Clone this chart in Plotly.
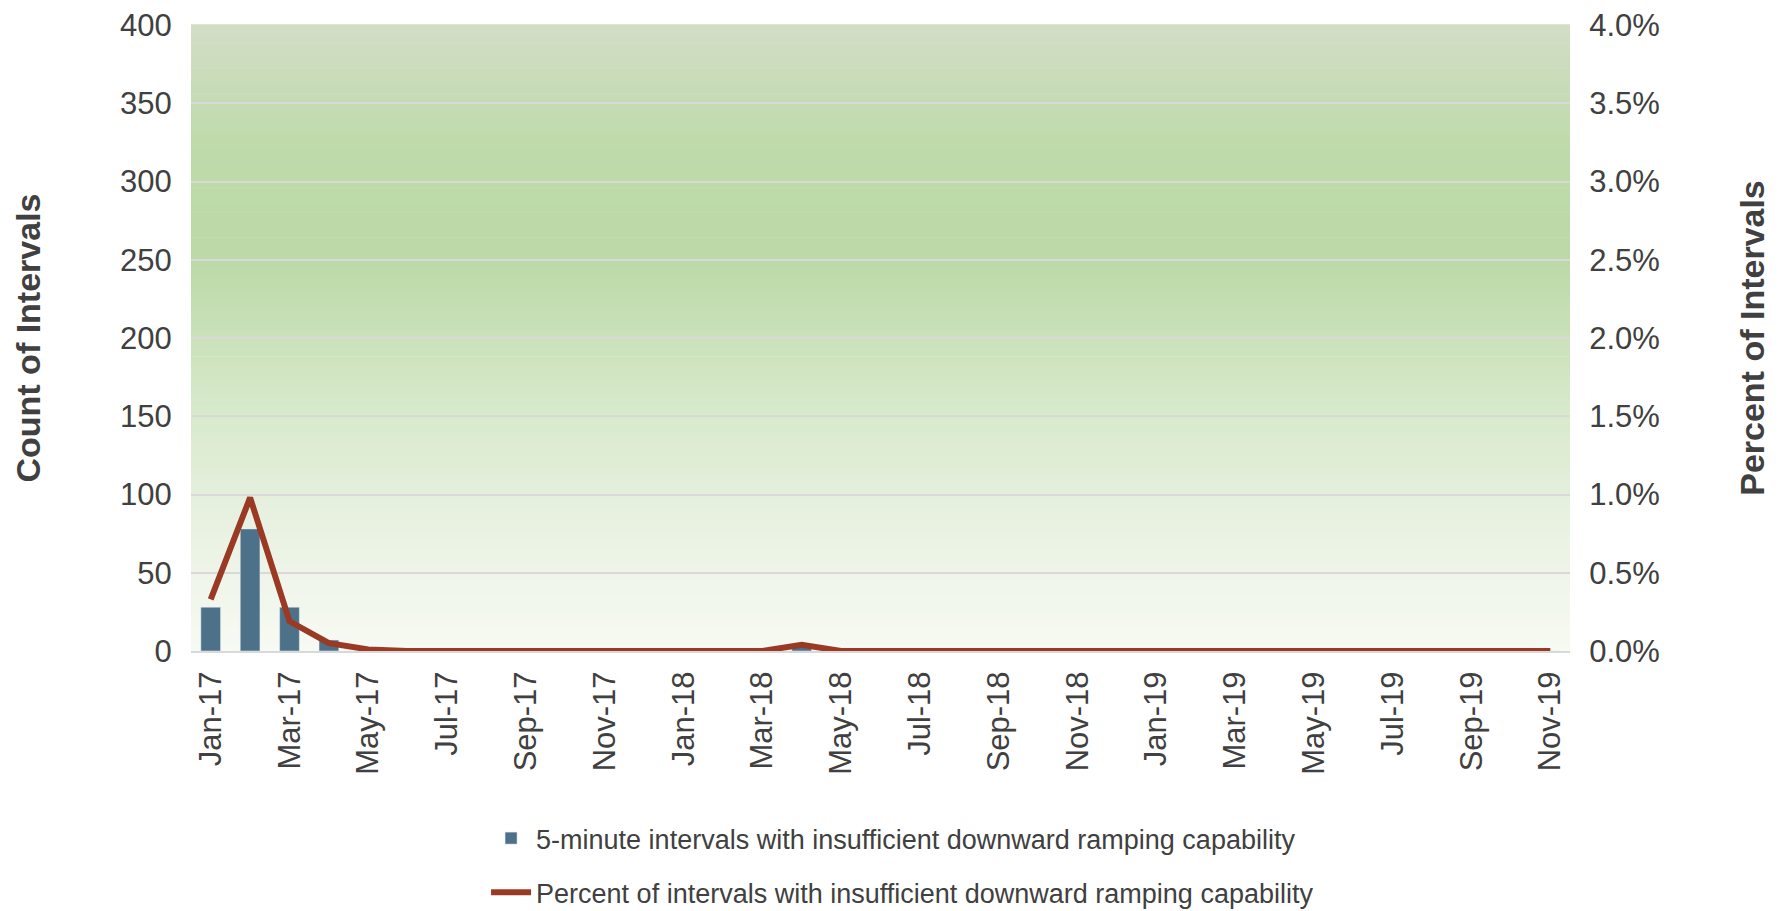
import plotly.graph_objects as go

months = ["Jan-17","Feb-17","Mar-17","Apr-17","May-17","Jun-17","Jul-17","Aug-17","Sep-17","Oct-17","Nov-17","Dec-17",
          "Jan-18","Feb-18","Mar-18","Apr-18","May-18","Jun-18","Jul-18","Aug-18","Sep-18","Oct-18","Nov-18","Dec-18",
          "Jan-19","Feb-19","Mar-19","Apr-19","May-19","Jun-19","Jul-19","Aug-19","Sep-19","Oct-19","Nov-19"]
counts = [28, 78, 28, 7, 1, 0, 0, 0, 0, 0, 0, 0,
          0, 0, 0, 3, 0, 0, 0, 0, 0, 0, 0, 0,
          0, 0, 0, 0, 0, 0, 0, 0, 0, 0, 0]
percents = [0.0033, 0.0098, 0.0019, 0.0005, 0.0001, 0, 0, 0, 0, 0, 0, 0,
            0, 0, 0, 0.0004, 0, 0, 0, 0, 0, 0, 0, 0,
            0, 0, 0, 0, 0, 0, 0, 0, 0, 0, 0]
tick_labels = months[::2]

bar_name = "5-minute intervals with insufficient downward ramping capability"
line_name = "Percent of intervals with insufficient downward ramping capability"

fig = go.Figure()
fig.add_trace(go.Bar(x=months, y=counts, name=bar_name, marker_color="#4d7189",
                     legendgroup="a", yaxis="y"))
fig.add_trace(go.Scatter(x=months, y=percents, name=line_name, mode="lines",
                         line=dict(color="#9a3a24", width=6), legendgroup="b", yaxis="y2"))

# gradient background (top -> bottom)
stops = [(0.0, (211, 221, 198)), (0.2, (190, 218, 170)), (0.38, (188, 217, 167)),
         (0.6, (214, 232, 201)), (0.8, (233, 242, 226)), (1.0, (247, 250, 243))]

def col(t):
    for (a, ca), (b, cb) in zip(stops[:-1], stops[1:]):
        if a <= t <= b:
            f = (t - a) / (b - a) if b > a else 0
            return "rgb(%d,%d,%d)" % tuple(round(ca[i] + (cb[i] - ca[i]) * f) for i in range(3))
    return "rgb(%d,%d,%d)" % stops[-1][1]

N = 100
shapes = []
for i in range(N):
    t0 = i / N
    shapes.append(dict(type="rect", xref="paper", yref="paper", x0=0, x1=1,
                       y0=1 - (i + 1) / N, y1=1 - t0 + 0.001, line_width=0,
                       fillcolor=col((i + 0.5) / N), layer="below"))

font = "Liberation Sans, Arial, sans-serif"
fig.update_layout(
    width=1784, height=911,
    margin=dict(l=191, r=214, t=25, b=260, autoexpand=False),
    paper_bgcolor="white", plot_bgcolor="rgba(0,0,0,0)",
    shapes=shapes,
    bargap=0.5,
    font=dict(family=font, color="#404040"),
    showlegend=True,
    legend=dict(orientation="v", x=0.516, xanchor="center",
                y=-0.425, yanchor="bottom",
                font=dict(size=27, color="#404040"), tracegroupgap=16,
                itemwidth=40, bgcolor="rgba(0,0,0,0)"),
    xaxis=dict(type="category", tickmode="array", tickvals=tick_labels, ticktext=tick_labels,
               tickangle=-90, tickfont=dict(size=31, color="#404040"),
               showgrid=False, showline=True, linecolor="#d9d9d9", linewidth=2,
               ticks="outside", ticklen=6, tickcolor="rgba(0,0,0,0)",
               range=[-0.5, len(months) - 0.5], automargin=False),
    yaxis=dict(range=[0, 400], dtick=50, tickfont=dict(size=31, color="#404040"),
               gridcolor="#d9d9d9", gridwidth=2, zeroline=False, showline=False,
               ticks="outside", ticklen=12, tickcolor="rgba(0,0,0,0)", automargin=False,
               title=dict(text="<b>Count of Intervals</b>", font=dict(size=34, color="#404040"), standoff=69)),
    yaxis2=dict(range=[0, 0.04], dtick=0.005, tickformat=".1%", overlaying="y", side="right",
                tickfont=dict(size=31, color="#404040"), showgrid=False, zeroline=False,
                ticks="outside", ticklen=12, tickcolor="rgba(0,0,0,0)", automargin=False,
                title=dict(text="<b>Percent of Intervals</b>", font=dict(size=34, color="#404040"), standoff=81)),
)

fig.write_html("out.html", config={"displayModeBar": False},
               post_script="document.body.style.margin='0';document.body.style.overflow='hidden';")
